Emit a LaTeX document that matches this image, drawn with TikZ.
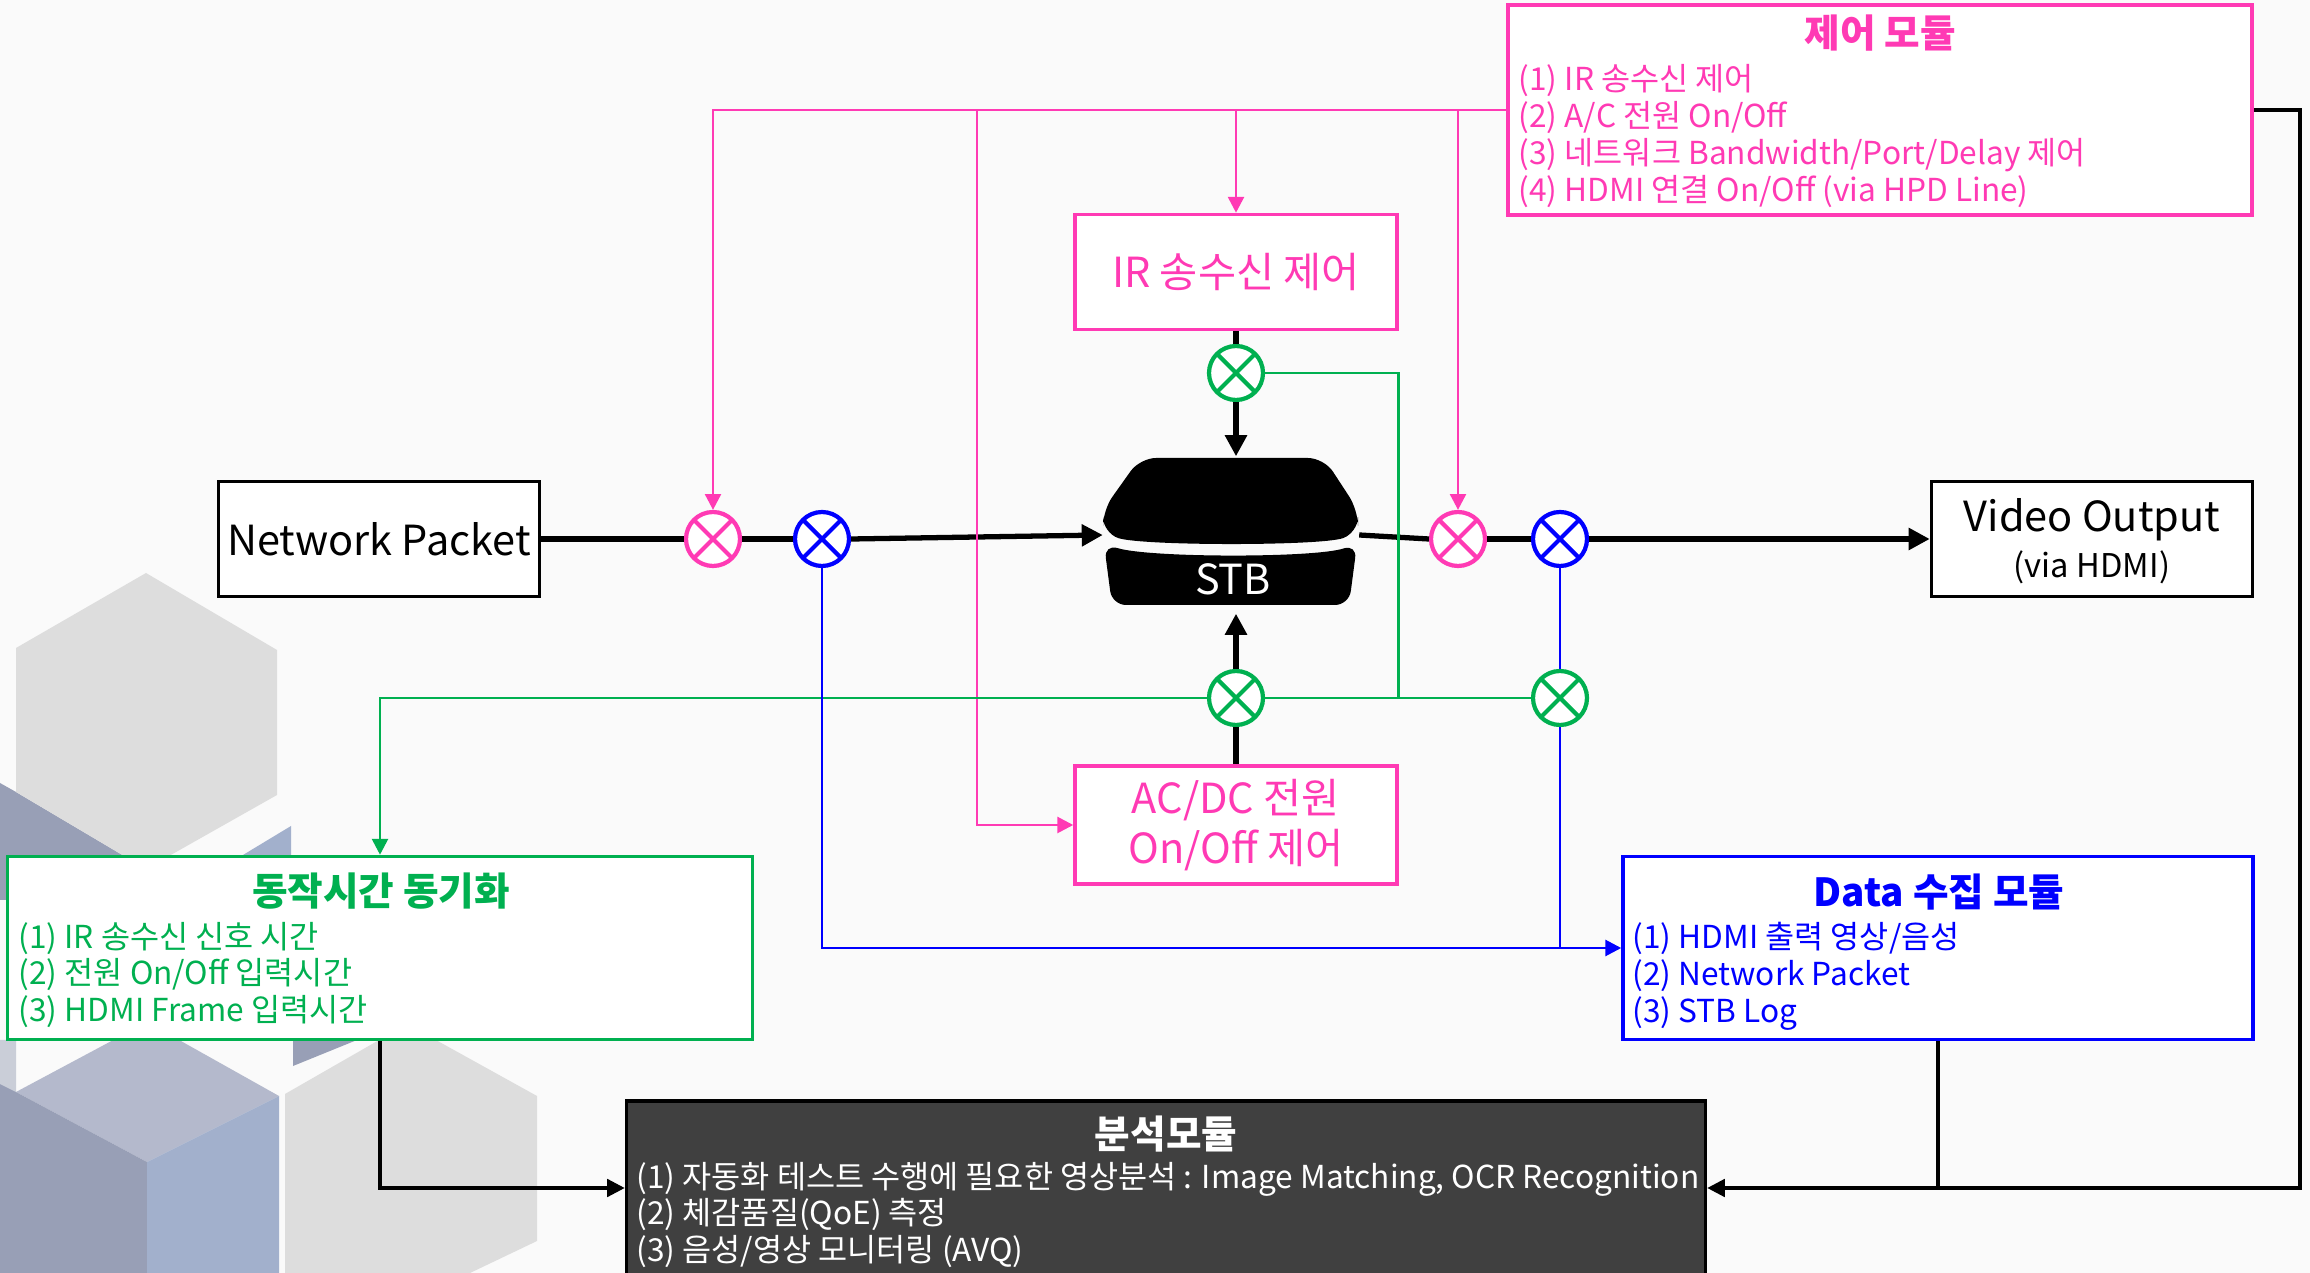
\documentclass[tikz,border=0pt]{standalone}
\usepackage{fontspec}
\setmainfont{Noto Sans CJK KR}
\usetikzlibrary{arrows.meta,positioning}

\definecolor{ctrlpink}{RGB}{255,58,180}
\definecolor{syncgreen}{RGB}{0,176,80}
\definecolor{datablue}{RGB}{0,0,255}
\definecolor{anagray}{RGB}{64,64,64}
\definecolor{bgpaper}{RGB}{250,250,250}
\definecolor{hexgray}{RGB}{221,221,221}
\definecolor{hexlight}{RGB}{202,206,216}
\definecolor{hextop}{RGB}{180,185,204}
\definecolor{hexblue}{RGB}{162,176,204}
\definecolor{hexslate}{RGB}{152,159,182}

\newcommand\modtitle{\fontsize{11}{13}\selectfont\bfseries}
\newcommand\moditem{\fontsize{9}{10.5}\selectfont}
\newcommand\boxlabel{\fontsize{11.8}{14}\selectfont}

\tikzset{
  box/.style={draw=#1, line width=1pt, fill=white, inner sep=0pt},
  mixer/.style={circle, draw=#1, line width=1.2pt, fill=white,
    minimum size=5.4mm, inner sep=0pt,
    path picture={\draw[#1, line width=1.2pt]
      (path picture bounding box.north west) -- (path picture bounding box.south east)
      (path picture bounding box.north east) -- (path picture bounding box.south west);}},
  flow/.style={line width=1.5pt},
  flowarrow/.style={line width=1.5pt, -{Triangle[length=6pt,width=6pt]}},
  ctrlarrow/.style={ctrlpink, line width=0.8pt, -{Triangle[length=4.5pt,width=4.5pt]}},
  syncline/.style={syncgreen, line width=0.8pt},
  dataline/.style={datablue, line width=0.8pt},
  outline/.style={line width=0.9pt},
}

\begin{document}
\begin{tikzpicture}[x=0.1mm, y=-0.1mm]
\useasboundingbox (0,0) rectangle (2310,1273);
\fill[bgpaper] (0,0) rectangle (2310,1273);

% cubes in the lower left corner
\fill[hexslate] (0,783) -- (16,792) -- (146,869) -- (146,900) -- (0,900) -- cycle;
\fill[hexgray] (16,648) -- (146,573) -- (277,650) -- (277,795) -- (146,869) -- (16,792) -- cycle;
\fill[hexblue] (238,858) -- (291,826) -- (291,858) -- cycle;
\fill[hexlight] (0,1040) -- (16,1040) -- (16,1092) -- (0,1084) -- cycle;
\fill[hextop] (16,1092) -- (147,1022) -- (279,1096) -- (147,1162) -- cycle;
\fill[hexslate] (0,1084) -- (16,1092) -- (147,1162) -- (147,1273) -- (0,1273) -- cycle;
\fill[hexblue] (147,1162) -- (279,1096) -- (279,1273) -- (147,1273) -- cycle;
\fill[hexslate] (293,1040) -- (357,1040) -- (293,1066) -- cycle;
\fill[hexgray] (285,1094) -- (407,1024) -- (537,1096) -- (537,1241) -- (470,1273) -- (285,1273) -- cycle;

% signal chain
\node[box=black, minimum width=32.1mm, minimum height=11.5mm, font=\boxlabel] (np) at (379,539) {Network Packet};
\node[mixer=ctrlpink] (pinkL) at (713,539) {};
\node[mixer=datablue] (blueL) at (822,539) {};
\node[minimum width=25.5mm, minimum height=15.6mm, inner sep=0pt] (stb) at (1231,535) {};
\node[mixer=ctrlpink] (pinkR) at (1458,539) {};
\node[mixer=datablue] (blueR) at (1560,539) {};
\node[box=black, minimum width=32.1mm, minimum height=11.5mm] (video) at (2092,539) {};
\node[font=\boxlabel] (videotxt) at (2092,520) {Video Output};
\node[font=\fontsize{9.3}{11}\selectfont] (viatxt) at (2092,567) {(via HDMI)};

% set-top box
\fill[black, rounded corners=1.6mm] (1103,533) -- (1103,510) -- (1140,458) -- (1324,458) -- (1358,510)
  -- (1358,533) .. controls (1320,546) and (1142,546) .. (1103,533) -- cycle;
\fill[black, rounded corners=1.4mm] (1104,544) .. controls (1150,558) and (1315,558) .. (1357,544)
  -- (1349,605) -- (1112,605) -- cycle;
\node[white, font=\boxlabel] (stbtxt) at (1233,579) {STB};

% control side
\node[box=ctrlpink, text=ctrlpink, minimum width=32.2mm, minimum height=11.5mm, font=\boxlabel] (ir) at (1236,272) {IR 송수신 제어};
\node[box=ctrlpink, text=ctrlpink, minimum width=32.2mm, minimum height=11.8mm, font=\boxlabel, align=center] (acdc) at (1236,825) {AC/DC 전원\\On/Off 제어};
\node[mixer=syncgreen] (greenU) at (1236,373) {};
\node[mixer=syncgreen] (greenD) at (1236,698) {};
\node[mixer=syncgreen] (greenR) at (1560,698) {};

% modules
\node[box=ctrlpink, minimum width=74.4mm, minimum height=21mm] (ctrl) at (1880,110) {};
\node[ctrlpink, font=\modtitle] (ctrltitle) at (1880,33) {제어 모듈};
\node[ctrlpink, font=\moditem, align=left, anchor=west, inner sep=0pt] (ctrllist) at (1518,136)
  {(1) IR 송수신 제어\\(2) A/C 전원 On/Off\\(3) 네트워크 Bandwidth/Port/Delay 제어\\(4) HDMI 연결 On/Off (via HPD Line)};

\node[box=syncgreen, minimum width=74.5mm, minimum height=18.3mm] (sync) at (380,948) {};
\node[syncgreen, font=\modtitle] (synctitle) at (381,891) {동작시간 동기화};
\node[syncgreen, font=\moditem, align=left, anchor=west, inner sep=0pt] (synclist) at (18,975)
  {(1) IR 송수신 신호 시간\\(2) 전원 On/Off 입력시간\\(3) HDMI Frame 입력시간};

\node[box=datablue, minimum width=63mm, minimum height=18.3mm] (data) at (1938,948) {};
\node[datablue, font=\modtitle] (datatitle) at (1939,892) {Data 수집 모듈};
\node[datablue, font=\moditem, align=left, anchor=west, inner sep=0pt] (datalist) at (1632,976)
  {(1) HDMI 출력 영상/음성\\(2) Network Packet\\(3) STB Log};

\node[draw=black, line width=1pt, fill=anagray, minimum width=107.9mm, minimum height=17.4mm] (ana) at (1166,1188) {};
\node[white, font=\modtitle] (anatitle) at (1166,1134) {분석모듈};
\node[white, font=\moditem, align=left, anchor=west, inner sep=0pt] (analist) at (636,1215)
  {(1) 자동화 테스트 수행에 필요한 영상분석 : Image Matching, OCR Recognition\\(2) 체감품질(QoE) 측정\\(3) 음성/영상 모니터링 (AVQ)};

% main flow
\draw[flow] (np.east) -- (pinkL.west);
\draw[flow] (pinkL.east) -- (blueL.west);
\draw[flowarrow] (blueL.east) -- (stb.west);
\draw[flow] (stb.east) -- (pinkR.west);
\draw[flow] (pinkR.east) -- (blueR.west);
\draw[flowarrow] (blueR.east) -- (video.west);
\draw[flow] (ir.south) -- (greenU.north);
\draw[flowarrow] (greenU.south) -- (greenU.south |- stb.north);
\draw[flow] (acdc.north) -- (greenD.south);
\draw[flowarrow] (greenD.north) -- (greenD.north |- stb.south);

% control lines
\coordinate (acdctap) at (977,110);
\draw[ctrlarrow] (ctrl.west) -| (pinkL.north);
\draw[ctrlarrow] (acdctap) |- (acdc.west);
\draw[ctrlarrow] (ctrl.west -| ir.north) -- (ir.north);
\draw[ctrlarrow] (ctrl.west -| pinkR.north) -- (pinkR.north);

% sync lines
\draw[syncline] (greenR.west) -- (greenD.east);
\draw[syncline, -{Triangle[length=4.5pt,width=4.5pt]}] (greenD.west) -| (sync.north);
\draw[syncline] (greenU.east) -| (ir.east |- greenD.center);

% data lines
\draw[dataline] (blueR.south) -- (greenR.north);
\draw[dataline] (greenR.south) -- (greenR.south |- data.west);
\draw[dataline, -{Triangle[length=4.5pt,width=4.5pt]}] (blueL.south) |- (data.west);

% results into analysis
\coordinate (rtcorner) at (2300,1188);
\draw[outline, -{Triangle[length=5pt,width=5pt]}] (sync.south) |- (ana.west);
\draw[outline, -{Triangle[length=5pt,width=5pt]}] (data.south) |- (ana.east);
\draw[outline] (ctrl.east) -| (rtcorner) -- (data.south |- rtcorner);
\end{tikzpicture}
\end{document}
